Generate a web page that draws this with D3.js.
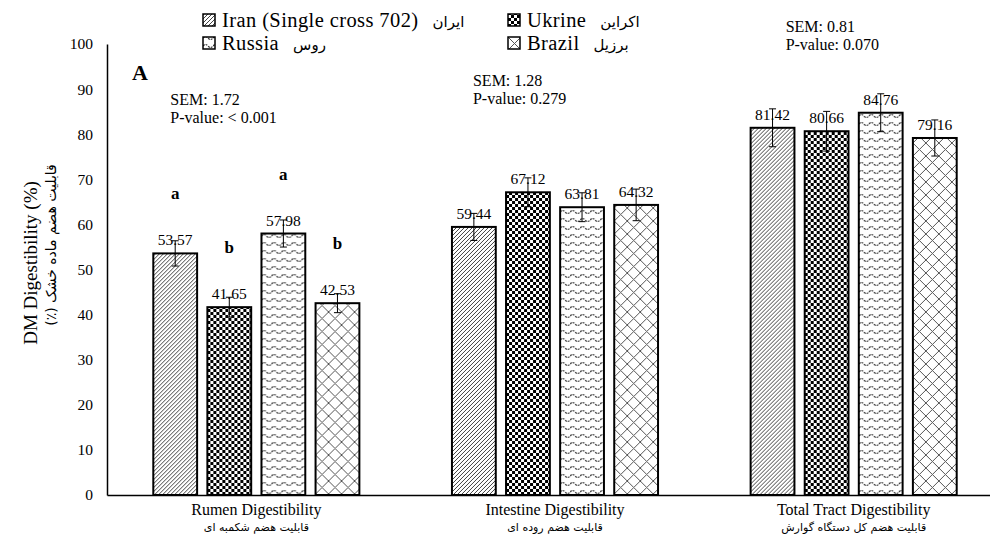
<!DOCTYPE html>
<html>
<head>
<meta charset="utf-8">
<script src="https://cdn.jsdelivr.net/npm/d3@7"></script>
<style>
  body { margin: 0; background: #fff; }
  text { font-family: "Liberation Serif", "Times New Roman", serif; }
  text.fa { font-family: "DejaVu Sans", sans-serif; }
</style>
</head>
<body>
<div id="chart"></div>
<script>
// digestibility of DM (%) per site, per origin
const groups = ['Rumen', 'Intestine', 'Total'];
const groupLabels = ['Rumen  Digestibility', 'Intestine  Digestibility', 'Total Tract  Digestibility'];
const groupLabelsFa = ['قابلیت هضم شکمبه ای', 'قابلیت هضم روده ای', 'قابلیت هضم کل دستگاه گوارش'];
const origins = ['Iran', 'Ukraine', 'Russia', 'Brazil'];
const originLabels = ['Iran (Single cross 702)', 'Ukrine', 'Russia', 'Brazil'];
const originLabelsFa = ['ایران', 'اکراین', 'روس', 'برزیل'];
const values = [
  [53.57, 41.65, 57.98, 42.53],
  [59.44, 67.12, 63.81, 64.32],
  [81.42, 80.66, 84.76, 79.16],
];
const errors = [
  [2.8, 2.2, 3.0, 2.1],
  [3.0, 3.2, 3.2, 3.5],
  [4.2, 4.4, 4.2, 4.0],
];
const sigLetters = [
  ['a', 'b', 'a', 'b'],
  ['', '', '', ''],
  ['', '', '', ''],
];
const semLabels = ['SEM: 1.72', 'SEM: 1.28', 'SEM: 0.81'];
const pLabels = ['P-value: < 0.001', 'P-value: 0.279', 'P-value: 0.070'];
const yTicks = [0, 10, 20, 30, 40, 50, 60, 70, 80, 90, 100];

const width = 990, height = 542;
const svg = d3.select('#chart').append('svg')
  .attr('width', width).attr('height', height);

// patterns for the four origins
const defs = svg.append('defs');
const pDiag = defs.append('pattern').attr('id', 'pat-Iran')
  .attr('patternUnits', 'userSpaceOnUse').attr('width', 4).attr('height', 4);
pDiag.append('rect').attr('width', 4).attr('height', 4).attr('fill', '#fff');
pDiag.append('path').attr('d', 'M-1,1 l2,-2 M0,4 l4,-4 M3,5 l2,-2')
  .attr('stroke', '#444').attr('stroke-width', 1);

const pChk = defs.append('pattern').attr('id', 'pat-Ukraine')
  .attr('patternUnits', 'userSpaceOnUse').attr('width', 6).attr('height', 6);
pChk.append('rect').attr('width', 6).attr('height', 6).attr('fill', '#000');
pChk.append('rect').attr('x', 0).attr('y', 0).attr('width', 3).attr('height', 3).attr('fill', '#fff');
pChk.append('rect').attr('x', 3).attr('y', 3).attr('width', 3).attr('height', 3).attr('fill', '#fff');

const pWave = defs.append('pattern').attr('id', 'pat-Russia')
  .attr('patternUnits', 'userSpaceOnUse').attr('width', 10).attr('height', 8);
pWave.append('rect').attr('width', 10).attr('height', 8).attr('fill', '#fff');
pWave.append('path').attr('d', 'M0,4 Q2.5,1 5,4 T10,4')
  .attr('fill', 'none').attr('stroke', '#333').attr('stroke-width', 1.2)
  .attr('stroke-dasharray', '2,1');

const pCross = defs.append('pattern').attr('id', 'pat-Brazil')
  .attr('patternUnits', 'userSpaceOnUse').attr('width', 13).attr('height', 13);
pCross.append('rect').attr('width', 13).attr('height', 13).attr('fill', '#fff');
pCross.append('path').attr('d', 'M0,0 L13,13 M13,0 L0,13')
  .attr('stroke', '#555').attr('stroke-width', 1);

// scales
const x0 = d3.scaleBand().domain(groups).range([107, 1003])
  .paddingInner(0.31).paddingOuter(0.155);
const x1 = d3.scaleBand().domain(origins).range([0, x0.bandwidth()])
  .paddingInner(0.19);
const y = d3.scaleLinear().domain([0, 100]).range([495, 44]);

// y axis
const yAxis = svg.append('g').attr('transform', 'translate(107,0)')
  .call(d3.axisLeft(y).tickValues(yTicks).tickSize(0).tickSizeOuter(0).tickPadding(14));
yAxis.select('.domain').attr('stroke', '#000').attr('stroke-width', 1.5);
yAxis.selectAll('text').attr('font-size', 15.5).attr('fill', '#000');

// x axis
const xAxis = svg.append('g').attr('transform', 'translate(0,495)')
  .call(d3.axisBottom(x0).tickSize(0).tickSizeOuter(0).tickFormat(() => ''));
xAxis.select('.domain').attr('stroke', '#000').attr('stroke-width', 1.5);
xAxis.selectAll('.tick').each(function(d, i) {
  const t = d3.select(this);
  t.append('text').attr('y', 20).attr('text-anchor', 'middle')
    .attr('font-size', 16).attr('fill', '#000')
    .text(groupLabels[i]);
  t.append('text').attr('class', 'fa').attr('y', 36).attr('text-anchor', 'middle')
    .attr('direction', 'rtl')
    .attr('font-size', 11).attr('fill', '#000')
    .text(groupLabelsFa[i]);
});

// bars
const rows = [];
groups.forEach((g, gi) => origins.forEach((o, oi) => {
  rows.push({ g, o, gi, oi, v: values[gi][oi], e: errors[gi][oi], s: sigLetters[gi][oi] });
}));

const barG = svg.append('g');
const cell = barG.selectAll('g.bar').data(rows).enter().append('g').attr('class', 'bar')
  .attr('transform', d => 'translate(' + (x0(d.g) + x1(d.o)) + ',0)');

cell.append('rect')
  .attr('x', 0).attr('y', d => y(d.v))
  .attr('width', x1.bandwidth()).attr('height', d => y(0) - y(d.v))
  .attr('fill', d => 'url(#pat-' + d.o + ')')
  .attr('stroke', '#000').attr('stroke-width', 2);

const cx = x1.bandwidth() / 2;
// value labels (behind error bars)
cell.append('text')
  .attr('x', cx).attr('y', d => y(d.v) - 8)
  .attr('text-anchor', 'middle').attr('font-size', 15.5).attr('fill', '#000')
  .text(d => d.v.toFixed(2));

// error bars
cell.append('line')
  .attr('x1', cx).attr('x2', cx)
  .attr('y1', d => y(d.v + d.e)).attr('y2', d => y(d.v - d.e))
  .attr('stroke', '#000').attr('stroke-width', 1);
cell.append('line')
  .attr('x1', cx - 3.5).attr('x2', cx + 3.5)
  .attr('y1', d => y(d.v + d.e)).attr('y2', d => y(d.v + d.e))
  .attr('stroke', '#000').attr('stroke-width', 1);
cell.append('line')
  .attr('x1', cx - 3.5).attr('x2', cx + 3.5)
  .attr('y1', d => y(d.v - d.e)).attr('y2', d => y(d.v - d.e))
  .attr('stroke', '#000').attr('stroke-width', 1);

// significance letters
cell.filter(d => d.s !== '').append('text')
  .attr('x', cx).attr('y', d => y(d.v) - 54)
  .attr('text-anchor', 'middle').attr('font-size', 17).attr('font-weight', 'bold')
  .text(d => d.s);

// SEM / P-value notes
const noteX = [17, 21, 35];
const noteY = [105, 86, 32];
groups.forEach((g, i) => {
  const t = svg.append('text').attr('font-size', 16).attr('fill', '#000');
  t.append('tspan').attr('x', x0(g) + noteX[i]).attr('y', noteY[i]).text(semLabels[i]);
  t.append('tspan').attr('x', x0(g) + noteX[i]).attr('y', noteY[i] + 18).text(pLabels[i]);
});

// panel letter
svg.append('text').attr('x', 132).attr('y', 80)
  .attr('font-size', 22).attr('font-weight', 'bold').text('A');

// y titles
svg.append('text').attr('transform', 'translate(37,263) rotate(-90)')
  .attr('text-anchor', 'middle').attr('font-size', 19).text('DM Digestibility  (%)');
svg.append('text').attr('class', 'fa').attr('transform', 'translate(56,245) rotate(-90)')
  .attr('text-anchor', 'middle').attr('direction', 'rtl')
  .attr('font-size', 14).text('قابلیت هضم ماده خشک (٪)');

// legend
const legX = [203, 508];
const legY = [27, 50];
origins.forEach((o, i) => {
  const col = i % 2, row = Math.floor(i / 2);
  const g = svg.append('g').attr('transform', 'translate(' + legX[col] + ',' + legY[row] + ')');
  g.append('rect').attr('x', 0).attr('y', -13).attr('width', 12).attr('height', 12)
    .attr('fill', 'url(#pat-' + o + ')').attr('stroke', '#000').attr('stroke-width', 1.5);
  const en = g.append('text').attr('x', 19).attr('y', 0).attr('font-size', 20.5)
    .attr('letter-spacing', 0.4).text(originLabels[i]);
  const w = en.node().getComputedTextLength();
  g.append('text').attr('class', 'fa').attr('x', 19 + w + 14).attr('y', 0)
    .attr('font-size', 15).attr('text-anchor', 'start').text(originLabelsFa[i]);
});
</script>
</body>
</html>
